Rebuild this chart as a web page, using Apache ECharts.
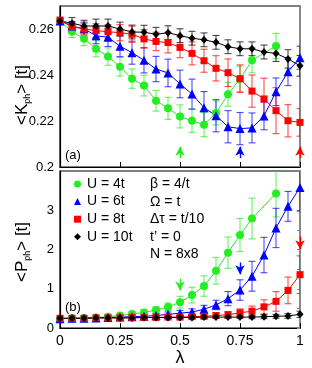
<!DOCTYPE html>
<html>
<head>
<meta charset="utf-8">
<script src="https://cdn.jsdelivr.net/npm/echarts@6/dist/echarts.min.js"></script>
<style>
html,body{margin:0;padding:0;background:#fff;}
#chart{width:312px;height:368px;}
</style>
</head>
<body>
<div id="chart"></div>
<script>
// ---- data ----
const lambda = [0,0.05,0.1,0.15,0.2,0.25,0.3,0.35,0.4,0.45,0.5,0.55,0.6,0.65,0.7,0.75,0.8,0.85,0.9,0.95,1];
const seriesNames = ['U = 4t','U = 6t','U = 8t','U = 10t'];
const xTickLabels = ['0','0.25','0.5','0.75','1'];

// panel (a): <K_ph>
const kU4  = [0.2635,0.2588,0.2558,0.2514,0.2480,0.2436,0.2384,0.2354,0.2288,0.2255,0.2220,0.2201,0.2184,0.2235,0.2316,0.2383,0.2464,null,0.2526,null,null];
const kU6  = [0.2635,0.2613,0.2600,0.2571,0.2564,0.2525,0.2497,0.2464,0.2426,0.2409,0.2361,0.2317,0.2258,0.2223,0.2175,0.2167,0.2170,0.2222,0.2327,0.2414,0.2475];
const kU8  = [0.2639,0.2610,0.2600,0.2593,0.2588,0.2584,0.2577,0.2557,0.2546,0.2541,0.2520,0.2494,0.2462,0.2429,0.2410,0.2384,0.2330,0.2296,0.2245,0.2201,0.2194];
const kU10 = [0.2635,0.2625,0.2613,0.2613,0.2613,0.2600,0.2587,0.2586,0.2577,0.2584,0.2571,0.2560,0.2553,0.2542,0.2523,0.2514,0.2514,0.2500,0.2494,0.2470,0.2440];
const kErrU4  = [0.001,0.0025,0.003,0.0035,0.0038,0.004,0.0042,0.0045,0.0045,0.0048,0.005,0.005,0.0052,0.0052,0.0052,0.0055,0.0055,null,0.0055,null,null];
const kErrU6  = [0.001,0.002,0.003,0.0035,0.004,0.0045,0.005,0.0055,0.0055,0.006,0.006,0.0065,0.007,0.007,0.007,0.007,0.0065,0.006,0.006,0.006,0.005];
const kErrU8  = [0.001,0.002,0.0025,0.003,0.003,0.0035,0.0035,0.004,0.004,0.0045,0.0045,0.005,0.005,0.0055,0.006,0.006,0.007,0.009,0.01,0.007,0.006];
const kErrU10 = [0.001,0.0025,0.0025,0.003,0.003,0.003,0.003,0.003,0.003,0.003,0.003,0.003,0.003,0.003,0.003,0.003,0.003,0.003,0.0035,0.004,0.0045];

// panel (b): <P_ph>
const pU4  = [0.24,0.25,0.26,0.27,0.29,0.32,0.36,0.40,0.46,0.54,0.66,0.84,1.07,1.46,1.92,2.37,2.79,null,3.43,null,null];
const pU6  = [0.24,0.25,0.25,0.26,0.27,0.28,0.29,0.30,0.32,0.35,0.38,0.41,0.48,0.59,0.75,0.97,1.32,1.86,2.55,3.10,3.58];
const pU8  = [0.25,0.25,0.25,0.26,0.26,0.26,0.27,0.27,0.27,0.28,0.28,0.29,0.30,0.32,0.34,0.39,0.43,0.54,0.68,0.96,1.36];
const pU10 = [0.25,0.25,0.25,0.26,0.26,0.26,0.26,0.27,0.27,0.27,0.27,0.27,0.28,0.28,0.28,0.28,0.28,0.29,0.30,0.31,0.35];
const pErrU4  = [0.01,0.02,0.03,0.03,0.04,0.05,0.06,0.07,0.08,0.10,0.15,0.20,0.26,0.34,0.40,0.42,0.52,null,0.60,null,null];
const pErrU6  = [0.01,0.02,0.02,0.03,0.03,0.04,0.04,0.05,0.05,0.06,0.07,0.08,0.10,0.12,0.18,0.26,0.38,0.45,0.50,0.38,0.60];
const pErrU8  = [0.01,0.01,0.02,0.02,0.02,0.03,0.03,0.03,0.03,0.04,0.04,0.05,0.05,0.06,0.08,0.10,0.13,0.18,0.25,0.34,0.48];
const pErrU10 = [0.01,0.01,0.01,0.01,0.01,0.02,0.02,0.02,0.02,0.02,0.02,0.02,0.03,0.03,0.03,0.03,0.04,0.05,0.05,0.06,0.08];

// arrows (λ position, start value, end value)
const arrowLambda = [0.5, 0.75, 1];
const kArrowFrom = [0.2039, 0.2039, 0.2039];
const kArrowTo   = [0.2088, 0.2088, 0.2088];
const pArrowFrom = [1.26, 1.67, 2.33];
const pArrowTo   = [0.96, 1.37, 2.01];

const params = ['β = 4/t', 'Ω = t', 'Δτ = t/10', 't’ = 0', 'N = 8x8'];

// ---- styling ----
const colors = ['#22ee22', '#0000ff', '#ff0000', '#000000'];
const symbols = ['circle', 'triangle', 'rect', 'diamond'];
const symbolSizes = [8, 9, 7, [7, 8]];
const FONT = '"Liberation Sans", Arial, Helvetica, sans-serif';

const kVals = [kU4, kU6, kU8, kU10];
const kErrs = [kErrU4, kErrU6, kErrU8, kErrU10];
const pVals = [pU4, pU6, pU8, pU10];
const pErrs = [pErrU4, pErrU6, pErrU8, pErrU10];

function pairs(vals) {
  const out = [];
  lambda.forEach((l, i) => { if (vals[i] != null) out.push([l, vals[i]]); });
  return out;
}
function triples(vals, errs) {
  const out = [];
  lambda.forEach((l, i) => { if (vals[i] != null && errs[i] != null) out.push([l, vals[i], errs[i]]); });
  return out;
}

function errRender(color) {
  return function (params, api) {
    const x = api.value(0), y = api.value(1), e = api.value(2);
    const top = api.coord([x, y + e]);
    const bot = api.coord([x, y - e]);
    const hw = 3.5;
    const st = { stroke: color, lineWidth: 1.1, opacity: 0.7 };
    return {
      type: 'group',
      children: [
        { type: 'line', shape: { x1: top[0], y1: top[1], x2: bot[0], y2: bot[1] }, style: st },
        { type: 'line', shape: { x1: top[0] - hw, y1: top[1], x2: top[0] + hw, y2: top[1] }, style: st },
        { type: 'line', shape: { x1: bot[0] - hw, y1: bot[1], x2: bot[0] + hw, y2: bot[1] }, style: st }
      ]
    };
  };
}

const series = [];
[0, 1].forEach(panel => {
  const vals = panel === 0 ? kVals : pVals;
  const errs = panel === 0 ? kErrs : pErrs;
  const aFrom = panel === 0 ? kArrowFrom : pArrowFrom;
  const aTo = panel === 0 ? kArrowTo : pArrowTo;
  for (let s = 0; s < 4; s++) {
    const ml = s < 3 ? {
      silent: true,
      symbol: ['none', 'arrow'],
      symbolSize: [7, 9],
      label: { show: false },
      lineStyle: { color: colors[s], width: 1.4, type: 'solid', opacity: 1 },
      emphasis: { disabled: true },
      data: [[{ coord: [arrowLambda[s], aFrom[s]] }, { coord: [arrowLambda[s], aTo[s]] }]]
    } : undefined;
    series.push({
      name: seriesNames[s],
      type: 'line',
      xAxisIndex: panel, yAxisIndex: panel * 2,
      data: pairs(vals[s]),
      symbol: symbols[s],
      symbolSize: symbolSizes[s],
      showSymbol: true,
      clip: false,
      lineStyle: { color: colors[s], width: 1 },
      itemStyle: { color: colors[s] },
      z: 3,
      markLine: ml
    });
  }
  for (let s = 0; s < 4; s++) {
    series.push({
      name: seriesNames[s],
      type: 'custom',
      xAxisIndex: panel, yAxisIndex: panel * 2,
      data: triples(vals[s], errs[s]),
      renderItem: errRender(colors[s]),
      clip: true,
      itemStyle: { color: colors[s] },
      z: 2,
      encode: { x: 0, y: 1 }
    });
  }
});

const graphics = [];
// y-axis titles
graphics.push({
  type: 'text', x: 22, y: 95, rotation: Math.PI / 2,
  style: {
    text: '{m|<K}{s|ph}{m|> [t]}',
    align: 'center', verticalAlign: 'middle',
    rich: {
      m: { fontSize: 17, fontFamily: FONT, fill: '#000', lineHeight: 20, verticalAlign: 'middle' },
      s: { fontSize: 9, fontFamily: FONT, fill: '#000', lineHeight: 9, verticalAlign: 'bottom' }
    }
  }
});
graphics.push({
  type: 'text', x: 22, y: 252, rotation: Math.PI / 2,
  style: {
    text: '{m|<P}{s|ph}{m|> [t]}',
    align: 'center', verticalAlign: 'middle',
    rich: {
      m: { fontSize: 17, fontFamily: FONT, fill: '#000', lineHeight: 20, verticalAlign: 'middle' },
      s: { fontSize: 9, fontFamily: FONT, fill: '#000', lineHeight: 9, verticalAlign: 'bottom' }
    }
  }
});
graphics.push({ type: 'text', x: 65, y: 155, style: { text: '(a)', fontSize: 13, fontFamily: FONT, fill: '#000', verticalAlign: 'middle' } });
graphics.push({ type: 'text', x: 65, y: 307, style: { text: '(b)', fontSize: 13, fontFamily: FONT, fill: '#000', verticalAlign: 'middle' } });
const paramY = [184, 202, 219.5, 237, 254.5];
params.forEach((t, i) => {
  graphics.push({ type: 'text', x: 150, y: paramY[i], style: { text: t, fontSize: 14, fontFamily: FONT, fill: '#000', verticalAlign: 'middle' } });
});

const fmt = v => String(+(+v).toFixed(2));

const option = {
  animation: false,
  backgroundColor: '#fff',
  grid: [
    { left: 60, right: 12, top: 6, height: 161, show: true, borderColor: '#000', borderWidth: 1.2, backgroundColor: 'transparent' },
    { left: 60, right: 12, top: 171, height: 162, show: true, borderColor: '#000', borderWidth: 1.2, backgroundColor: 'transparent' }
  ],
  legend: {
    orient: 'vertical', left: 74, top: 177,
    itemWidth: 7, itemHeight: 7, itemGap: 3.6,
    padding: 0,
    textStyle: { fontSize: 14, fontFamily: FONT, color: '#000', padding: [0, 0, 0, 1] },
    selectedMode: false,
    data: seriesNames.map((n, i) => ({ name: n, icon: symbols[i] }))
  },
  xAxis: [
    {
      gridIndex: 0, type: 'value', min: 0, max: 1, interval: 0.25,
      axisLine: { lineStyle: { color: '#000', width: 1.2 } },
      axisTick: { inside: true, length: 5, lineStyle: { color: '#000' } },
      axisLabel: { show: false },
      splitLine: { show: false }
    },
    {
      gridIndex: 1, type: 'value', min: 0, max: 1, interval: 0.25,
      axisLine: { lineStyle: { color: '#000', width: 1.2 } },
      axisTick: { inside: true, length: 5, lineStyle: { color: '#000' } },
      axisLabel: { fontSize: 14, fontFamily: FONT, color: '#000', margin: 6, formatter: v => xTickLabels[Math.round(v * 4)] },
      splitLine: { show: false },
      name: 'λ', nameLocation: 'middle', nameGap: 16,
      nameTextStyle: { fontSize: 18, fontFamily: FONT, color: '#000' }
    }
  ],
  yAxis: [
    {
      gridIndex: 0, type: 'value', min: 0.2, max: 0.27, interval: 0.02,
      axisLine: { show: true, lineStyle: { color: '#000', width: 1.2 } },
      axisTick: { show: false },
      axisLabel: { fontSize: 13, fontFamily: FONT, color: '#000', margin: 6, showMaxLabel: false, formatter: fmt },
      splitLine: { show: false }
    },
    {
      gridIndex: 0, type: 'value', position: 'right', min: 0.2, max: 0.27, interval: 0.02,
      axisLine: { show: true, lineStyle: { color: '#888', width: 2 } },
      axisTick: { show: false }, axisLabel: { show: false }, splitLine: { show: false }
    },
    {
      gridIndex: 1, type: 'value', min: 0, max: 4, interval: 1,
      axisLine: { show: true, lineStyle: { color: '#000', width: 1.2 } },
      axisTick: { show: false },
      axisLabel: { fontSize: 13, fontFamily: FONT, color: '#000', margin: 6, showMaxLabel: false, formatter: fmt },
      splitLine: { show: false }
    },
    {
      gridIndex: 1, type: 'value', position: 'right', min: 0, max: 4, interval: 0.5,
      axisLine: { show: true, lineStyle: { color: '#888', width: 2 } },
      axisTick: { show: true, inside: true, length: 3, lineStyle: { color: '#888' } },
      axisLabel: { show: false }, splitLine: { show: false }
    }
  ],
  graphic: graphics,
  series: series
};

const chart = echarts.init(document.getElementById('chart'), null, { renderer: 'canvas' });
chart.setOption(option);
</script>
</body>
</html>
